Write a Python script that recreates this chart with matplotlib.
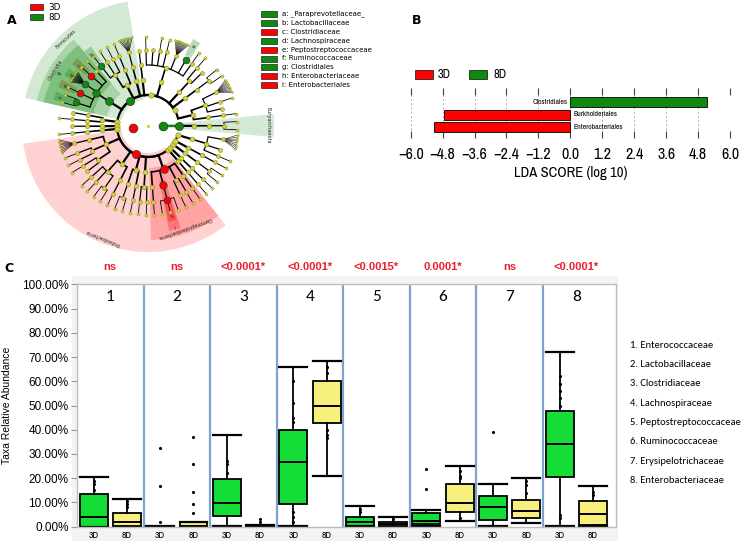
import numpy as np
import matplotlib
matplotlib.use('Agg')
import matplotlib.pyplot as plt
from matplotlib.patches import Wedge, Rectangle
from matplotlib import font_manager as fm

# ---------------------------------------------------------------- data
# Panel A : cladogram (kingdom > phylum > class > order > family:int = number of genera)
def C(name, *kids):
    return (name, list(kids))

clado = [
    C('Archaea',
      C('Euryarchaeota', C('Methanobacteria', C('Methanobacteriales', ('Methanobacteriaceae', 2))))),
    C('Bacteria',
      C('Actinobacteria',
        C('Actinobacteria_c', C('Bifidobacteriales', ('Bifidobacteriaceae', 1)),
          C('Actinomycetales', ('Corynebacteriaceae', 0), ('Micrococcaceae', 1), ('Actinomycetaceae', 10))),
        C('Coriobacteriia', C('Coriobacteriales', ('Coriobacteriaceae', 2))),
        C('Thermoleophilia', C('Solirubrobacterales', ('Solirubrobacteraceae', 0), ('Gaiellaceae', 1)))),
      C('Bacteroidetes',
        C('Bacteroidia', C('Bacteroidales', ('Bacteroidaceae', 1), ('_Paraprevotellaceae_', 0),
                           ('Porphyromonadaceae', 12), ('Prevotellaceae', 1), ('Rikenellaceae', 1),
                           ('S24-7', 0), ('Odoribacteraceae', 1))),
        C('Flavobacteriia', C('Flavobacteriales', ('Flavobacteriaceae', 0)))),
      C('Firmicutes',
        C('Erysipelotrichi', C('Erysipelotrichales', ('Erysipelotrichaceae', 9))),
        C('Bacilli', C('Bacillales', ('Staphylococcaceae', 1)),
          C('Lactobacillales', ('Streptococcaceae', 1), ('Enterococcaceae', 1), ('Lactobacillaceae', 1))),
        C('Clostridia', C('Clostridiales', ('Veillonellaceae', 1), ('Clostridiaceae', 1), ('Lachnospiraceae', 14),
                          ('Peptostreptococcaceae', 1), ('Ruminococcaceae', 2)))),
      C('Tenericutes', C('Mollicutes', C('RF39', ('RF39_f', 0)), C('Anaeroplasmatales', ('Anaeroplasmataceae', 1)))),
      C('Cyanobacteria', C('4C0d-2', C('YS2', ('YS2_f', 0)))),
      C('Deferribacteres', C('Deferribacteres_c', C('Deferribacterales', ('Deferribacteraceae', 1)))),
      C('Proteobacteria',
        C('Alphaproteobacteria', C('RF32', ('RF32_f', 9)), C('Rhizobiales', ('Bradyrhizobiaceae', 1), ('Brucellaceae', 1)),
          C('Rhodospirillales', ('Rhodospirillaceae', 1), ('Acetobacteraceae', 0))),
        C('Betaproteobacteria', C('Burkholderiales', ('Alcaligenaceae', 1), ('Comamonadaceae', 1), ('Oxalobacteraceae', 2)),
          C('Neisseriales', ('Neisseriaceae', 1))),
        C('Deltaproteobacteria', C('Desulfovibrionales', ('Desulfovibrionaceae', 2)), C('Myxococcales', ('Myxo_f', 1))),
        C('Epsilonproteobacteria', C('Campylobacterales', ('Helicobacteraceae', 1), ('Campylobacteraceae', 1))),
        C('Gammaproteobacteria', C('Pasteurellales', ('Pasteurellaceae', 1)),
          C('Enterobacteriales', ('Enterobacteriaceae', 3)),
          C('Pseudomonadales', ('Moraxellaceae', 1), ('Pseudomonadaceae', 1)),
          C('Aeromonadales', ('Succinivibrionaceae', 1)))),
      C('Verrucomicrobia', C('Verrucomicrobiae', C('Verrucomicrobiales', ('Verrucomicrobiaceae', 1)))),
      C('TM7', C('TM7-3', C('CW040', ('F16', 1)))),
      C('Spirochaetes', C('Spirochaetes_c', C('Spirochaetales', ('Spirochaetaceae', 2)))),
      C('Fusobacteria', C('Fusobacteriia', C('Fusobacteriales', ('Fusobacteriaceae', 1)))),
      C('Chloroflexi', C('Anaerolineae', C('Anaerolineales', ('Anaerolineaceae', 1), ('Chl_f2', 0), ('Chl_f3', 8))))),
]
clade_3d = ['Bacteria', 'Proteobacteria', 'Gammaproteobacteria', 'Enterobacteriales',
            'Enterobacteriaceae', 'Clostridiaceae', 'Peptostreptococcaceae']
clade_8d = ['Archaea', 'Euryarchaeota', 'Firmicutes', 'Clostridia', 'Clostridiales', 'Lachnospiraceae',
            'Ruminococcaceae', 'Lactobacillaceae', '_Paraprevotellaceae_']
named_clades = ['Euryarchaeota', 'Firmicutes', 'Clostridia', 'Proteobacteria', 'Gammaproteobacteria']
letter_keys = ['a', 'b', 'c', 'd', 'e', 'f', 'g', 'h', 'i']
letter_taxa = ['_Paraprevotellaceae_', 'Lactobacillaceae', 'Clostridiaceae', 'Lachnospiraceae',
               'Peptostreptococcaceae', 'Ruminococcaceae', 'Clostridiales', 'Enterobacteriaceae',
               'Enterobacteriales']

# Panel B : LDA
lda_taxa = ['Enterobacteriales', 'Burkholderiales', 'Clostridiales']
lda_scores = [-5.13, -4.73, 5.15]
lda_groups = ['3D', '3D', '8D']
lda_ticks = [-6.0, -4.8, -3.6, -2.4, -1.2, 0.0, 1.2, 2.4, 3.6, 4.8, 6.0]

# Panel C : box plots (whislo, q1, med, q3, whishi) in %
families = ['Enterococcaceae', 'Lactobacillaceae', 'Clostridiaceae', 'Lachnospiraceae',
            'Peptostreptococcaceae', 'Ruminococcaceae', 'Erysipelotrichaceae', 'Enterobacteriaceae']
pvalues = ['ns', 'ns', '<0.0001*', '<0.0001*', '<0.0015*', '0.0001*', 'ns', '<0.0001*']
days = ['3D', '8D']
box_3d = [(0, 0, 3.9, 13.3, 20.4), (0, 0, 0, 0.3, 0.4), (0.3, 4.4, 9.8, 19.5, 37.8),
          (0.3, 9.4, 26.8, 40.0, 65.7), (0.3, 0.4, 2.1, 4.0, 8.7), (0.3, 1.2, 2.3, 5.5, 6.9),
          (0.3, 2.6, 8.3, 12.8, 17.5), (0.4, 20.4, 34.1, 47.9, 72.1)]
box_8d = [(0, 0.3, 1.9, 5.8, 11.6), (0, 0, 0.2, 2.0, 2.0), (0, 0.1, 0.3, 0.6, 0.6),
          (20.8, 42.6, 49.9, 60.2, 68.4), (0, 0.3, 1.0, 2.0, 3.9), (2.5, 6.2, 9.8, 17.7, 25.0),
          (1.7, 3.4, 6.3, 11.1, 20.1), (0.4, 0.8, 5.4, 10.7, 16.6)]
pts_3d = [[15, 17.5, 19], [32.5, 16.8, 1.8], [22, 26, 27], [60, 51, 45, 43, 6, 4, 2],
          [6, 7.5], [23.7, 15.5], [39.2], [62, 59, 56, 53, 50, 5, 3.5]]
pts_8d = [[8, 9.5, 10.5], [37.1, 25.7, 14.2, 9.2, 5.5], [2, 3], [66, 63.5, 40, 38, 36.5],
          [3], [23, 21, 20, 3.5], [14, 17, 19], [13, 14.5]]

# ---------------------------------------------------------------- fonts
names = {f.name for f in fm.fontManager.ttflist}


def pick(cands, default):
    for c in cands:
        if c in names:
            return c
    return default


NARROW_NAME = pick(['Liberation Sans Narrow', 'Arial Narrow', 'Archivo Narrow', 'PT Sans Narrow',
                    'Roboto Condensed', 'Fira Sans Condensed', 'IBM Plex Sans Condensed'], None)
if NARROW_NAME is None:
    NARROW = ['Liberation Sans', 'DejaVu Sans']
    NS_SCALE = 0.8
else:
    NARROW = [NARROW_NAME, 'DejaVu Sans']
    NS_SCALE = 1.0
ARIAL = ['Liberation Sans', 'DejaVu Sans']
CALIB = [pick(['Carlito', 'Lato'], 'DejaVu Sans'), 'DejaVu Sans']
plt.rcParams['font.family'] = ['DejaVu Sans']

RED = '#ff0000'
GREEN = '#0f8a0f'
W, H = 743, 543
fig = plt.figure(figsize=(W / 100, H / 100), dpi=100)


def fbox(x0, y0, x1, y1):
    return [x0 / W, 1 - y1 / H, (x1 - x0) / W, (y1 - y0) / H]


def fpt(x, y):
    return (x / W, 1 - y / H)


def frect(x0, y0, x1, y1, fc, ec='#222222', lw=0.5, z=5):
    fig.patches.append(Rectangle(fpt(x0, y1), (x1 - x0) / W, (y1 - y0) / H, facecolor=fc,
                                 edgecolor=ec, linewidth=lw, transform=fig.transFigure, zorder=z))


# ================================================================ Panel A
axA = fig.add_axes(fbox(0, 0, 290, 265))
axA.set_xlim(-148, 142)
axA.set_ylim(-139, 126)
axA.axis('off')

RAD = [15, 31, 46, 61, 76, 89]
LWS = [1.6, 1.6, 1.2, 0.9, 0.6, 0.4]
NS = [34, 15, 12, 10, 8, 5]


def weight(node):
    kids = node[1]
    if isinstance(kids, int):
        return 1 if kids == 0 else (kids if kids <= 3 else 2)
    return sum(weight(k) for k in kids)


unit = 360.0 / sum(weight(k) for k in clado)
recs = []


def layout(node, level, a0):
    name, kids = node
    w = weight(node)
    rec = {'name': name, 'level': level, 'a0': a0, 'a1': a0 + w * unit, 'kids': []}
    if isinstance(kids, int):
        g = kids
        if g == 0:
            rec['genera'] = []
        elif g <= 3:
            rec['genera'] = [a0 + (i + 0.5) * unit for i in range(g)]
        else:
            rec['genera'] = list(np.linspace(a0 + 0.15 * unit, a0 + 1.85 * unit, g))
        rec['fan'] = g > 3
        rec['angle'] = a0 + w * unit / 2
    else:
        a = a0
        for k in kids:
            ch = layout(k, level + 1, a)
            rec['kids'].append(ch)
            a = ch['a1']
        rec['angle'] = (rec['kids'][0]['angle'] + rec['kids'][-1]['angle']) / 2
    recs.append(rec)
    return rec


a = -5.0
for k in clado:
    a = layout(k, 0, a)['a1']


def pol(r, ang):
    t = np.radians(ang)
    return r * np.cos(t), r * np.sin(t)


def arc(r, a0, a1, **kw):
    t = np.radians(np.linspace(a0, a1, max(2, int(abs(a1 - a0) * 2))))
    axA.plot(r * np.cos(t), r * np.sin(t), solid_capstyle='butt', **kw)


def radial(r0, r1, ang, **kw):
    x0, y0 = pol(r0, ang)
    x1, y1 = pol(r1, ang)
    axA.plot([x0, x1], [y0, y1], **kw)


def col_of(name):
    if name in clade_3d:
        return RED
    if name in clade_8d:
        return GREEN
    return None


# shaded sectors
for rec in recs:
    c = col_of(rec['name'])
    if c is None or rec['level'] == 0:
        continue
    L = rec['level']
    th0, th1 = rec['a0'], rec['a1']
    if L == 1:
        rin, rout, al = (10 if rec['name'] == 'Euryarchaeota' else 27), 126, 0.18
    elif L == 2:
        rin, rout, al = 42, 114, 0.22
    elif L == 3:
        rin, rout, al = 56, 107, 0.28
    else:
        rin, rout, al = 80, 98, 0.3
        th0, th1 = rec['angle'] - 0.45 * unit, rec['angle'] + 0.45 * unit
    if L == 3 and rec['name'] == 'Enterobacteriales':
        th0, th1 = rec['angle'] - 0.6 * unit, rec['angle'] + 0.6 * unit
    axA.add_patch(Wedge((0, 0), rout, th0, th1, width=rout - rin, facecolor=c, alpha=al,
                        edgecolor='none', zorder=0))
    mid = (th0 + th1) / 2
    if rec['name'] in named_clades:
        x, y = pol(rout - 6, mid)
        axA.text(x, y, rec['name'], fontsize=3.6, rotation=mid - 90, ha='center', va='center',
                 rotation_mode='anchor', color='#222222', zorder=6)
    if rec['name'] in letter_taxa:
        x, y = pol(103 if L == 3 else 91, mid)
        axA.text(x, y, letter_keys[letter_taxa.index(rec['name'])], fontsize=4, rotation=mid - 90,
                 ha='center', va='center', rotation_mode='anchor', color='#222222', zorder=6)

# edges
for rec in recs:
    L = rec['level']
    if rec['kids']:
        angs = [k['angle'] for k in rec['kids']]
        if L == 0:
            if len(angs) > 1:
                arc(RAD[1], min(angs), max(angs), color='black', lw=LWS[0], zorder=1)
            else:
                radial(RAD[0], RAD[1], angs[0], color=col_of(rec['name']) or 'black', lw=LWS[0], zorder=1)
        else:
            if len(angs) > 1:
                arc(RAD[L], min(angs), max(angs), color='black', lw=LWS[L], zorder=1)
            for an in angs:
                radial(RAD[L], RAD[L + 1], an, color='black', lw=LWS[L], zorder=1)
    elif rec.get('genera'):
        if rec['fan']:
            fx, fy = pol(RAD[4], rec['angle'])
            for an in rec['genera']:
                x1, y1 = pol(RAD[5] + 1, an)
                axA.plot([fx, x1], [fy, y1], color='black', lw=0.35, zorder=1)
        else:
            g = rec['genera']
            if len(g) > 1:
                arc(RAD[4], min(g), max(g), color='black', lw=LWS[4], zorder=1)
            for an in g:
                radial(RAD[4], RAD[5], an, color='black', lw=LWS[4], zorder=1)

# nodes
for rec in recs:
    L = rec['level']
    x, y = pol(RAD[L], rec['angle'])
    c = col_of(rec['name'])
    if c is None:
        axA.scatter([x], [y], s=NS[L], color='#d2d23a', edgecolor='#8a8a1c', linewidth=0.4, zorder=3)
    else:
        axA.scatter([x], [y], s=[40, 34, 32, 28, 24][L], color=c, edgecolor='#333333', linewidth=0.5, zorder=4)
    for an in rec.get('genera', []):
        gx, gy = pol(RAD[5] + (1 if rec['fan'] else 0), an)
        axA.scatter([gx], [gy], s=(1.5 if rec['fan'] else NS[5]), color='#d2d23a',
                    edgecolor='#8a8a1c', linewidth=0.3, zorder=3)
axA.scatter([0], [0], s=2, color='#d2d23a', zorder=3)

# legends of panel A
frect(30, 4, 43, 10, RED)
fig.text(*fpt(48, 7.5), '3D', fontsize=6.3, va='center')
frect(30, 14, 43, 20, GREEN)
fig.text(*fpt(48, 17.5), '8D', fontsize=6.3, va='center')
for i, (k, t) in enumerate(zip(letter_keys, letter_taxa)):
    y = 14 + i * 8.9
    frect(261, y - 3, 277, y + 3, col_of(t))
    fig.text(*fpt(282, y), f'{k}: {t}', fontsize=5.0, va='center')
fig.text(*fpt(12, 20), 'A', fontsize=9, fontweight='bold', ha='center', va='center')

# ================================================================ Panel B
axB = fig.add_axes(fbox(410.7, 88, 730, 138))
ypos = np.arange(len(lda_taxa))
bcols = [RED if g == '3D' else GREEN for g in lda_groups]
axB.barh(ypos, lda_scores, height=0.8, color=bcols, edgecolor='black', linewidth=0.6, zorder=3)
axB.set_xlim(-6, 6)
axB.set_ylim(-0.88, 3.12)
axB.set_xticks(lda_ticks)
axB.set_xticklabels([f'{v:.1f}'.replace('-', '\u2212') for v in lda_ticks], family=NARROW,
                    fontsize=11.5 * NS_SCALE)
axB.set_yticks([])
for s in axB.spines.values():
    s.set_visible(False)
axB.tick_params(axis='x', direction='in', top=True, bottom=True, length=5, width=0.8,
                color='#444444', pad=6.5)
axB.grid(axis='x', linestyle=(0, (2, 3)), color='#9a9a9a', linewidth=0.6, zorder=0)
axB.set_xlabel('LDA SCORE (log 10)', family=NARROW, fontsize=10.5 * NS_SCALE, labelpad=3)
for yv, sc, name in zip(ypos, lda_scores, lda_taxa):
    if sc > 0:
        axB.text(-0.12, yv, name, ha='right', va='center', fontsize=5.5 * NS_SCALE, family=NARROW)
    else:
        axB.text(0.12, yv, name, ha='left', va='center', fontsize=5.5 * NS_SCALE, family=NARROW)
frect(415, 70, 433, 79, RED, lw=0.6)
fig.text(*fpt(438, 74.5), '3D', fontsize=9 * NS_SCALE, family=NARROW, va='center')
frect(469, 70, 487, 79, GREEN, lw=0.6)
fig.text(*fpt(493, 74.5), '8D', fontsize=9 * NS_SCALE, family=NARROW, va='center')
fig.text(*fpt(417, 20), 'B', fontsize=9, fontweight='bold', ha='center', va='center')

# ================================================================ Panel C
fig.patches.append(Rectangle(fpt(72, 541), (618 - 72) / W, (541 - 276) / H, facecolor='#f3f3f1',
                             edgecolor='none', transform=fig.transFigure, zorder=-10))
axC = fig.add_axes(fbox(77, 284.3, 615.5, 526.7))
axC.set_facecolor('white')
ng = len(families)
stats, positions, faces = [], [], []
for i in range(ng):
    for d, bx in enumerate((box_3d[i], box_8d[i])):
        lo, q1, med, q3, hi = bx
        stats.append(dict(whislo=lo, q1=q1, med=med, q3=q3, whishi=hi, fliers=[]))
        positions.append(i + 1 + (-0.25 if d == 0 else 0.25))
        faces.append('#15dd38' if d == 0 else '#f8f07c')
bp = axC.bxp(stats, positions=positions, widths=0.42, capwidths=0.42, patch_artist=True,
             showfliers=False,
             boxprops=dict(linewidth=1.3, edgecolor='black'),
             medianprops=dict(color='black', linewidth=1.4),
             whiskerprops=dict(color='black', linewidth=1.3),
             capprops=dict(color='black', linewidth=1.6), zorder=2)
for patch, fc in zip(bp['boxes'], faces):
    patch.set_facecolor(fc)
for i in range(ng):
    for d, pts in enumerate((pts_3d[i], pts_8d[i])):
        xp = i + 1 + (-0.25 if d == 0 else 0.25)
        axC.scatter(np.full(len(pts), xp), pts, s=5, color='black', zorder=3, linewidths=0)
for i in range(1, ng):
    axC.axvline(i + 0.5, color='#7fa3cf', lw=1.6, zorder=1)
axC.set_xlim(0.5, 8.59)
axC.set_ylim(0, 100)
yt = np.arange(0, 101, 10)
axC.set_yticks(yt)
axC.set_yticklabels([f'{v:.2f}%' for v in yt], family=ARIAL, fontsize=8.5)
axC.tick_params(axis='y', direction='out', length=4.5, color='#9a9a9a', pad=1.5)
axC.set_xticks(positions)
axC.set_xticklabels(days * ng, family=NARROW, fontsize=7 * NS_SCALE)
axC.tick_params(axis='x', length=0, pad=3)
for s in axC.spines.values():
    s.set_color('#bdbdbd')
    s.set_linewidth(1.0)
axC.set_ylabel('Taxa Relative Abundance', family=ARIAL, fontsize=7.5)
axC.yaxis.set_label_coords(-0.121, 0.5)
for i in range(ng):
    axC.text(i + 1, 94.8, str(i + 1), ha='center', va='center', fontsize=12.5, family=CALIB)
    axC.text(i + 1, 107.3, pvalues[i], ha='center', va='center', fontsize=8, fontweight='bold',
             color='#e8202a', family=ARIAL, clip_on=False)
for i, fam in enumerate(families):
    fig.text(*fpt(630, 345 + i * 19.4), f'{i + 1}. {fam}', fontsize=7.6, family=CALIB, va='center')
fig.text(*fpt(9, 268), 'C', fontsize=9, fontweight='bold', ha='center', va='center')

fig.savefig('out.png', dpi=100)
